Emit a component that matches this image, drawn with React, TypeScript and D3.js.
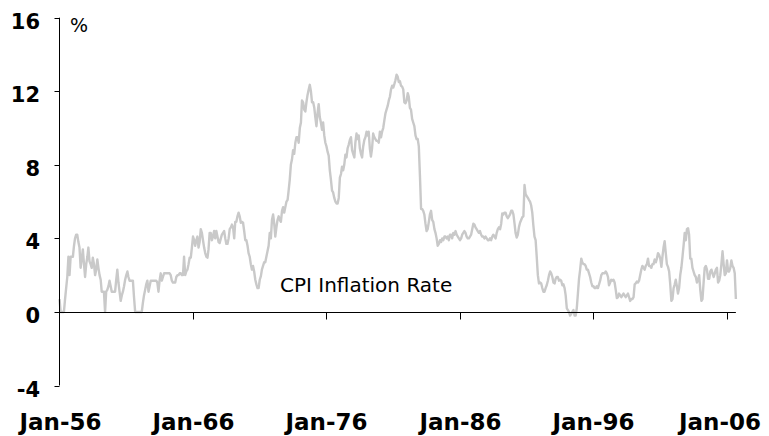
import React, { useEffect, useRef } from "react";
import * as d3 from "d3";

// monthly CPI inflation, % y/y, starting Jan-56
const cpi1956to1965 = [
	0.7, 0.0, 0.0, 0.0, 0.0, 0.7, 1.3, 1.9, 3.0, 2.0, 3.0, 3.0,
	3.0, 3.6, 4.0, 4.2, 4.2, 3.8, 3.5, 2.4, 2.9, 3.4, 2.6, 1.9,
	2.6, 3.0, 3.5, 2.75, 2.6, 2.4, 2.95, 2.6, 2.0, 2.3, 2.85, 2.4,
	2.0, 1.75, 1.1, 1.1, 1.1, 0.0, 1.1, 1.2, 1.4, 1.7, 1.4, 1.1,
	1.1, 1.1, 1.1, 1.75, 2.3, 1.6, 1.1, 0.6, 0.9, 1.1, 1.4, 1.75,
	2.0, 2.2, 1.9, 1.7, 1.7, 1.7, 1.7, 0.8, 0.0, 0.0, 0.0, 0.0,
	0.0, 0.0, 0.0, 0.5, 0.9, 1.2, 1.5, 1.7, 1.1, 1.4, 1.7, 1.7,
	1.7, 1.7, 1.7, 1.7, 1.6, 1.1, 1.7, 2.1, 1.7, 1.9, 2.1, 2.1,
	2.1, 2.1, 2.1, 2.1, 2.0, 1.7, 1.6, 1.6, 1.6, 1.9, 2.0, 2.0,
	2.1, 2.1, 2.0, 2.0, 3.0, 2.0, 2.2, 2.3, 2.6, 2.95, 2.95, 3.5,
];

const cpi1966to1975 = [
	4.1, 3.9, 3.6, 3.9, 4.1, 3.5, 3.8, 4.5, 4.3, 3.9, 3.5, 3.2,
	3.0, 2.95, 3.4, 4.3, 4.3, 3.9, 4.1, 4.4, 4.0, 4.4, 4.1, 3.8,
	3.75, 4.0, 4.2, 4.3, 4.4, 4.0, 3.7, 3.7, 4.0, 4.5, 4.6, 4.75,
	4.6, 4.0, 4.9, 4.9, 5.2, 5.4, 5.2, 4.85, 4.9, 4.85, 4.4, 3.9,
	3.9, 3.6, 3.2, 3.0, 2.6, 2.3, 2.5, 2.2, 1.75, 1.5, 1.3, 1.3,
	1.75, 1.95, 2.3, 2.5, 2.7, 2.7, 3.0, 3.3, 3.6, 4.3, 4.0, 5.0,
	5.3, 4.8, 4.1, 4.6, 5.0, 5.2, 5.0, 4.9, 5.5, 5.7, 5.4, 5.7,
	6.0, 6.1, 6.6, 7.2, 8.0, 8.3, 8.8, 8.6, 9.2, 9.5, 9.5, 9.2,
	10.0, 10.3, 11.5, 11.4, 11.0, 10.9, 11.4, 11.8, 12.1, 12.35, 12.0, 11.4,
	11.4, 11.1, 10.6, 10.1, 10.8, 11.3, 10.6, 10.3, 9.9, 10.3, 9.6, 9.2,
];

const cpi1976to1985 = [
	9.0, 8.7, 8.5, 7.7, 7.2, 6.6, 6.5, 6.2, 6.0, 5.9, 5.9, 6.2,
	7.3, 7.5, 7.9, 7.7, 8.0, 8.55, 8.4, 8.9, 9.1, 9.35, 9.5, 8.8,
	8.6, 8.4, 9.2, 9.7, 9.4, 9.6, 8.9, 8.6, 8.4, 9.0, 9.35, 9.5,
	9.8, 9.6, 9.8, 8.9, 8.45, 8.9, 9.7, 9.5, 9.4, 9.3, 9.3, 9.2,
	9.8, 9.5, 9.8, 10.0, 10.4, 10.8, 11.0, 11.2, 11.5, 11.7, 12.1, 12.3,
	12.2, 12.4, 12.6, 12.9, 12.8, 12.5, 12.55, 12.3, 12.25, 12.1, 11.4, 11.35,
	11.5, 11.9, 11.7, 11.1, 11.0, 10.5, 10.3, 10.1, 9.6, 9.4, 9.4, 9.0,
	7.4, 5.6, 5.6, 5.5, 5.3, 4.8, 4.4, 4.5, 4.9, 5.3, 5.5, 5.0,
	4.9, 4.5, 4.3, 4.0, 3.6, 3.7, 3.9, 3.8, 4.0, 3.9, 4.1, 4.1,
	4.0, 4.1, 3.9, 4.2, 4.2, 4.0, 4.3, 4.2, 4.4, 4.2, 4.1, 4.0,
];

const cpi1986to1995 = [
	3.9, 4.0, 4.2, 4.3, 4.4, 4.3, 4.1, 4.0, 4.0, 4.1, 4.2, 4.5,
	4.8, 4.75, 4.6, 4.5, 4.4, 4.3, 4.4, 4.2, 4.1, 4.1, 4.0, 4.1,
	4.0, 3.9, 3.9, 4.0, 3.9, 4.1, 4.2, 4.1, 4.0, 4.3, 4.5, 4.6,
	4.5, 4.8, 5.35, 5.3, 5.4, 5.4, 5.2, 5.1, 5.2, 5.3, 5.5, 5.5,
	5.3, 4.8, 4.3, 4.05, 4.2, 4.6, 4.85, 5.0, 5.15, 5.2, 6.9, 6.4,
	6.3, 6.2, 6.1, 6.0, 5.8, 5.4, 4.7, 4.1, 3.9, 3.0, 2.0, 1.55,
	1.6, 1.55, 1.3, 1.1, 1.1, 1.3, 1.45, 1.7, 2.0, 2.2, 2.1, 1.9,
	1.6, 1.55, 1.8, 1.9, 1.9, 1.7, 1.75, 1.7, 1.45, 1.5, 1.3, 0.9,
	0.2, 0.1, 0.0, -0.2, -0.1, 0.0, 0.1, -0.2, -0.2, 0.2, 1.0, 1.8,
	2.3, 2.9, 2.7, 2.6, 2.6, 2.5, 2.3, 2.3, 2.1, 1.9, 1.6, 1.4,
];

const cpi1996to2006 = [
	1.4, 1.3, 1.3, 1.4, 1.3, 1.5, 1.7, 2.0, 2.1, 2.1, 2.1, 2.2,
	2.1, 1.9, 1.45, 1.6, 1.75, 1.7, 1.75, 1.6, 1.2, 0.75, 0.8, 1.0,
	0.9, 0.8, 0.9, 1.0, 0.9, 0.8, 0.9, 1.0, 0.8, 0.6, 0.7, 0.7,
	0.8, 1.5, 1.55, 1.65, 1.6, 1.7, 2.0, 2.3, 2.5, 2.4, 2.3, 2.5,
	2.6, 2.9, 2.5, 2.5, 2.4, 2.6, 2.6, 2.85, 2.7, 2.9, 3.2, 3.1,
	2.9, 2.45, 3.0, 3.5, 3.85, 3.2, 2.6, 2.45, 2.2, 1.5, 0.6, 0.7,
	1.3, 1.5, 1.75, 1.4, 1.0, 1.3, 2.0, 2.4, 3.0, 3.6, 4.3, 3.9,
	4.5, 4.55, 4.2, 2.9, 2.9, 2.4, 2.2, 2.0, 1.9, 1.6, 1.75, 2.0,
	1.2, 0.6, 0.7, 1.6, 2.4, 2.5, 2.3, 1.8, 1.8, 2.2, 2.3, 2.1,
	1.9, 2.1, 2.3, 2.4, 1.6, 1.7, 2.0, 2.6, 3.3, 2.6, 2.0, 2.1,
	2.8, 2.2, 2.2, 2.4, 2.8, 2.5, 2.4, 2.1, 0.7,
];

const yTicks = [-4, 0, 4, 8, 12, 16];
const xTickYears = [1956, 1966, 1976, 1986, 1996, 2006];
const seriesLabel = "CPI Inflation Rate";
const unitLabel = "%";

export default function App() {
	const ref = useRef<HTMLDivElement>(null);

	useEffect(() => {
		const w = 769;
		const h = 436;

		const values = [
			...cpi1956to1965,
			...cpi1966to1975,
			...cpi1976to1985,
			...cpi1986to1995,
			...cpi1996to2006,
		];
		const start = new Date(1956, 0, 1);
		const data = values.map((v, i) => ({ date: d3.timeMonth.offset(start, i), v }));

		// Scales
		const xScale = d3
			.scaleTime()
			.domain([new Date(1956, 0, 1), new Date(2006, 0, 1)])
			.range([59.5, 727]);

		const yScale = d3.scaleLinear().domain([-4, 16]).range([385.5, 17.7]);

		const svg = d3
			.select(ref.current)
			.html("")
			.append("svg")
			.attr("width", w)
			.attr("height", h)
			.style("display", "block");

		// Line
		svg
			.append("path")
			.datum(data)
			.attr("fill", "none")
			.attr("stroke", "#c9c9c9")
			.attr("stroke-width", 2.4)
			.attr("stroke-linejoin", "round")
			.attr(
				"d",
				d3
					.line<{ date: Date; v: number }>()
					.x(d => xScale(d.date))
					.y(d => yScale(d.v))
			);

		const axisColor = "#000";
		const x0 = 59.5;
		const zeroY = Math.round(yScale(0)) + 0.5;
		const lastX = xScale(data[data.length - 1].date);

		// y-axis
		svg
			.append("line")
			.attr("x1", x0)
			.attr("x2", x0)
			.attr("y1", yScale(16))
			.attr("y2", yScale(-4))
			.attr("stroke", axisColor);

		const yt = svg.append("g").attr("id", "y-axis");
		yTicks.forEach(t => {
			const y = Math.round(yScale(t)) + 0.5;
			yt.append("line")
				.attr("x1", x0 - 5)
				.attr("x2", x0)
				.attr("y1", y)
				.attr("y2", y)
				.attr("stroke", axisColor);
			yt.append("text")
				.attr("x", 40)
				.attr("y", y + 10)
				.attr("text-anchor", "end")
				.attr("font-family", "DejaVu Sans, Verdana, sans-serif")
				.attr("font-weight", "bold")
				.attr("font-size", 21)
				.attr("fill", "#000")
				.text(t);
		});

		// x-axis
		svg
			.append("line")
			.attr("x1", x0)
			.attr("x2", lastX)
			.attr("y1", zeroY)
			.attr("y2", zeroY)
			.attr("stroke", axisColor);

		const xt = svg.append("g").attr("id", "x-axis");
		xTickYears.forEach((yr, i) => {
			const x = Math.round(xScale(new Date(yr, 0, 1))) + 0.5;
			if (i > 0) {
				xt.append("line")
					.attr("x1", x)
					.attr("x2", x)
					.attr("y1", zeroY)
					.attr("y2", zeroY + 7)
					.attr("stroke", axisColor);
			}
			const last = i === xTickYears.length - 1;
			xt.append("text")
				.attr("x", last ? 761 : x)
				.attr("y", 430)
				.attr("text-anchor", last ? "end" : "middle")
				.attr("font-family", "DejaVu Sans, Verdana, sans-serif")
				.attr("font-weight", "bold")
				.attr("font-size", 23)
				.attr("fill", "#000")
				.text("Jan-" + String(yr).slice(2));
		});

		// unit label
		svg
			.append("text")
			.attr("x", 70)
			.attr("y", 32)
			.attr("font-family", "DejaVu Sans, Verdana, sans-serif")
			.attr("font-size", 19)
			.attr("fill", "#000")
			.text(unitLabel);

		// series label
		svg
			.append("text")
			.attr("x", 280)
			.attr("y", 292)
			.attr("font-family", "DejaVu Sans, Verdana, sans-serif")
			.attr("font-size", 20)
			.attr("fill", "#000")
			.text(seriesLabel);
	}, []);

	return <div ref={ref} style={{ position: "absolute", left: 0, top: 0 }}></div>;
}
